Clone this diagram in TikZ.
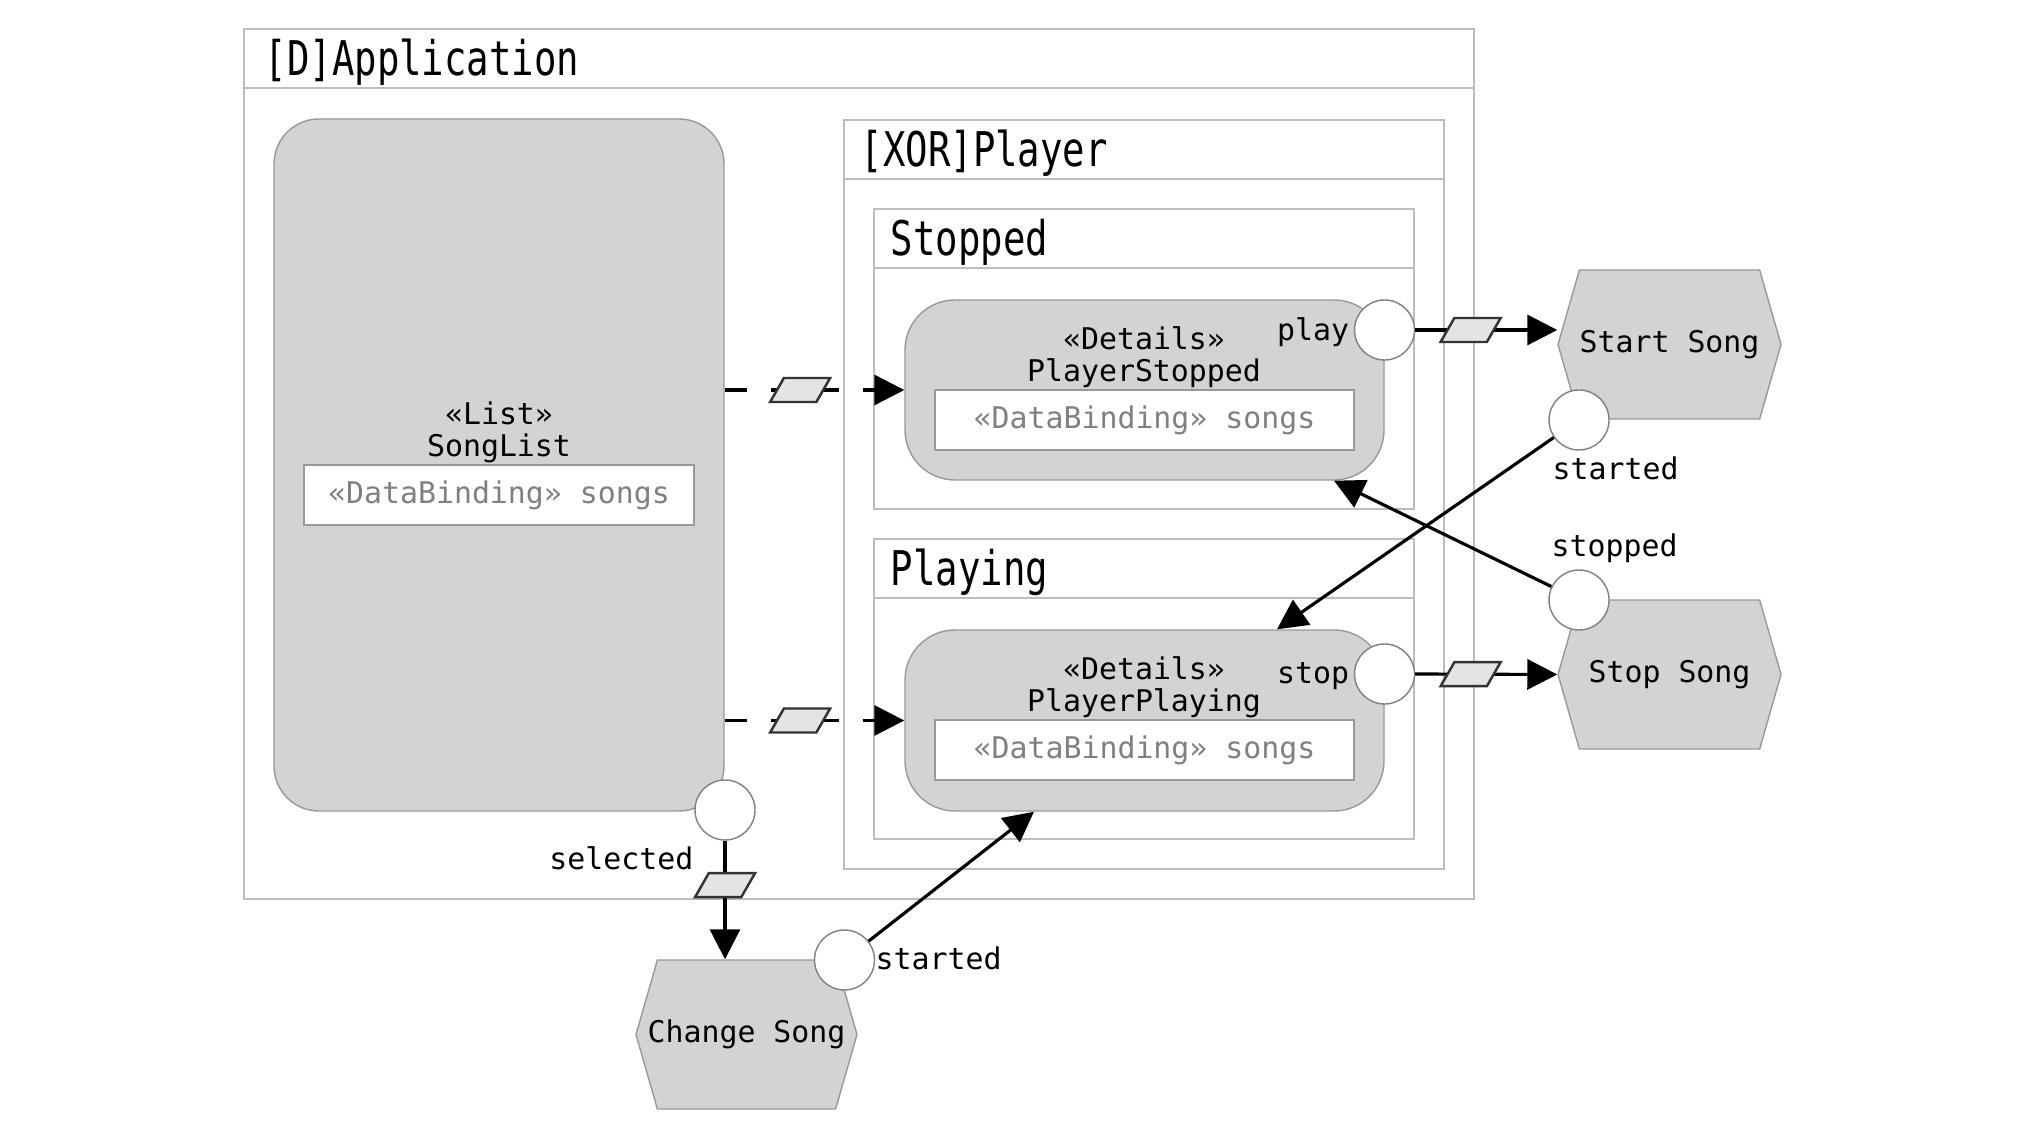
\documentclass[tikz,border=0pt]{standalone}
\usepackage{fontspec}
\newfontfamily\boxfont{DejaVu Sans Mono}
\newfontfamily\titlefont[FakeStretch=0.78]{DejaVu Sans Mono}
\usetikzlibrary{arrows.meta,positioning,shapes.geometric,shapes.symbols}
\definecolor{fillgray}{HTML}{D3D3D3}
\definecolor{linegray}{HTML}{BDBDBD}
\definecolor{edgegray}{HTML}{999999}
\definecolor{bindgray}{HTML}{808080}
\definecolor{msggray}{HTML}{E4E4E4}
\tikzset{
  container/.style={draw=linegray,fill=white,line width=0.5pt,inner sep=0pt},
  headline/.style={draw=linegray,line width=0.5pt},
  titletext/.style={font=\titlefont\fontsize{13.6}{15}\selectfont,anchor=west,inner sep=0pt},
  widget/.style={draw=edgegray,fill=fillgray,line width=0.4pt,rounded corners=0.5cm,inner sep=0pt},
  binding/.style={draw=edgegray,fill=white,text=bindgray,minimum height=0.6cm,inner sep=0pt},
  port/.style={circle,draw=gray,fill=white,line width=0.4pt,minimum size=0.6cm,inner sep=0pt},
  portlabel/.style={inner sep=0pt},
  action/.style={signal,signal to=east and west,signal pointer angle=148,draw=edgegray,fill=fillgray,
    line width=0.4pt,minimum width=2.23cm,minimum height=1.49cm,inner sep=0pt},
  msg/.style={trapezium,trapezium left angle=67,trapezium right angle=113,trapezium stretches=true,solid,
    draw=black!80,fill=msggray,line width=0.7pt,minimum width=0.6cm,minimum height=0.24cm,inner sep=1pt},
  flow/.style={line width=0.9pt,-{Triangle[length=0.3cm,width=0.3cm]}},
  dataflow/.style={flow,dash pattern=on 0.22cm off 0.24cm}
}
\begin{document}
\begin{tikzpicture}[every node/.style={font=\boxfont\fontsize{8.5}{9.2}\selectfont}]
\useasboundingbox[fill=white] (0,0) rectangle (20.27,11.40);
% containers
\node[container,minimum width=12.30cm,minimum height=8.70cm] (app) at (8.59,6.76) {};
\draw[headline] ([yshift=-0.6cm]app.north west) -- ([yshift=-0.6cm]app.north east);
\node[titletext] (apptitle) at ([xshift=0.21cm,yshift=-0.34cm]app.north west) {[D]Application};
\node[container,minimum width=6.00cm,minimum height=7.49cm] (player) at (11.44,6.455) {};
\draw[headline] ([yshift=-0.6cm]player.north west) -- ([yshift=-0.6cm]player.north east);
\node[titletext] (playertitle) at ([xshift=0.17cm,yshift=-0.34cm]player.north west) {[XOR]Player};
\node[container,minimum width=5.40cm,minimum height=3.00cm] (stoppedbox) at (11.44,7.81) {};
\draw[headline] ([yshift=-0.6cm]stoppedbox.north west) -- ([yshift=-0.6cm]stoppedbox.north east);
\node[titletext] (stoppedtitle) at ([xshift=0.17cm,yshift=-0.34cm]stoppedbox.north west) {Stopped};
\node[container,minimum width=5.40cm,minimum height=3.00cm] (playingbox) at (11.44,4.51) {};
\draw[headline] ([yshift=-0.6cm]playingbox.north west) -- ([yshift=-0.6cm]playingbox.north east);
\node[titletext] (playingtitle) at ([xshift=0.17cm,yshift=-0.34cm]playingbox.north west) {Playing};
% widgets
\node[widget,rounded corners=0.45cm,minimum width=4.50cm,minimum height=6.92cm] (songlist) at (4.99,6.75) {};
\node[align=center] (songlistlbl) at (4.99,7.075) {«List»\\SongList};
\node[binding,minimum width=3.90cm] (sbind) at (4.99,6.45) {«DataBinding» songs};
\node[widget,minimum width=4.79cm,minimum height=1.80cm] (pstopped) at (11.445,7.50) {};
\node[align=center] (pstoppedlbl) at (11.44,7.825) {«Details»\\PlayerStopped};
\node[binding,minimum width=4.19cm] (psbind) at (11.445,7.20) {«DataBinding» songs};
\node[widget,minimum width=4.79cm,minimum height=1.81cm] (pplaying) at (11.445,4.195) {};
\node[align=center] (pplayinglbl) at (11.44,4.53) {«Details»\\PlayerPlaying};
\node[binding,minimum width=4.19cm] (ppbind) at (11.445,3.90) {«DataBinding» songs};
% actions
\node[action] (startsong) at (16.695,7.955) {\raisebox{-0.7pt}{Start Song}};
\node[action] (stopsong) at (16.695,4.655) {\raisebox{-0.7pt}{Stop Song}};
\node[action,minimum width=2.21cm] (changesong) at (7.465,1.055) {\makebox[1.2cm]{\raisebox{-0.7pt}{Change Song}}};
% ports
\node[port] (play) at (13.845,8.10) {};
\node[portlabel,left=0.04cm of play,yshift=-0.025cm] (playlbl) {play};
\node[port] (stop) at (13.845,4.66) {};
\node[portlabel,left=0.04cm of stop,yshift=-0.025cm] (stoplbl) {stop};
\node[port] (selected) at (7.25,3.30) {};
\node[portlabel,anchor=east] (selectedlbl) at (6.94,2.82) {selected};
\node[port] (startedA) at (15.79,7.20) {};
\node[portlabel,anchor=west] (startedAlbl) at (15.52,6.72) {started};
\node[port] (stoppedB) at (15.79,5.40) {};
\node[portlabel,anchor=west] (stoppedBlbl) at (15.51,5.92) {stopped};
\node[port] (startedC) at (8.445,1.80) {};
\node[portlabel,anchor=west] (startedClbl) at (8.75,1.82) {started};
% connectors
\draw[dataflow] (songlist.east |- pstopped.west) -- node[msg,pos=0.42] (m1) {} (pstopped.west);
\draw[dataflow] (songlist.east |- pplaying.west) -- node[msg,pos=0.42] (m2) {} (pplaying.west);
\draw[flow] (play.east) -- node[msg,pos=0.39] (m3) {} (play.east -| startsong.west);
\draw[flow] (stop.east) -- node[msg,pos=0.39] (m4) {} (stopsong.west);
\draw[flow] (selected.south) -- node[msg,pos=0.375] (m5) {} (selected.south |- changesong.north);
\draw[flow] (startedA) -- ([xshift=1.325cm]pplaying.north);
\draw[flow] (stoppedB) -- ([xshift=1.895cm]pstopped.south);
\draw[flow] (startedC) -- ([xshift=-1.105cm]pplaying.south);
\end{tikzpicture}
\end{document}
